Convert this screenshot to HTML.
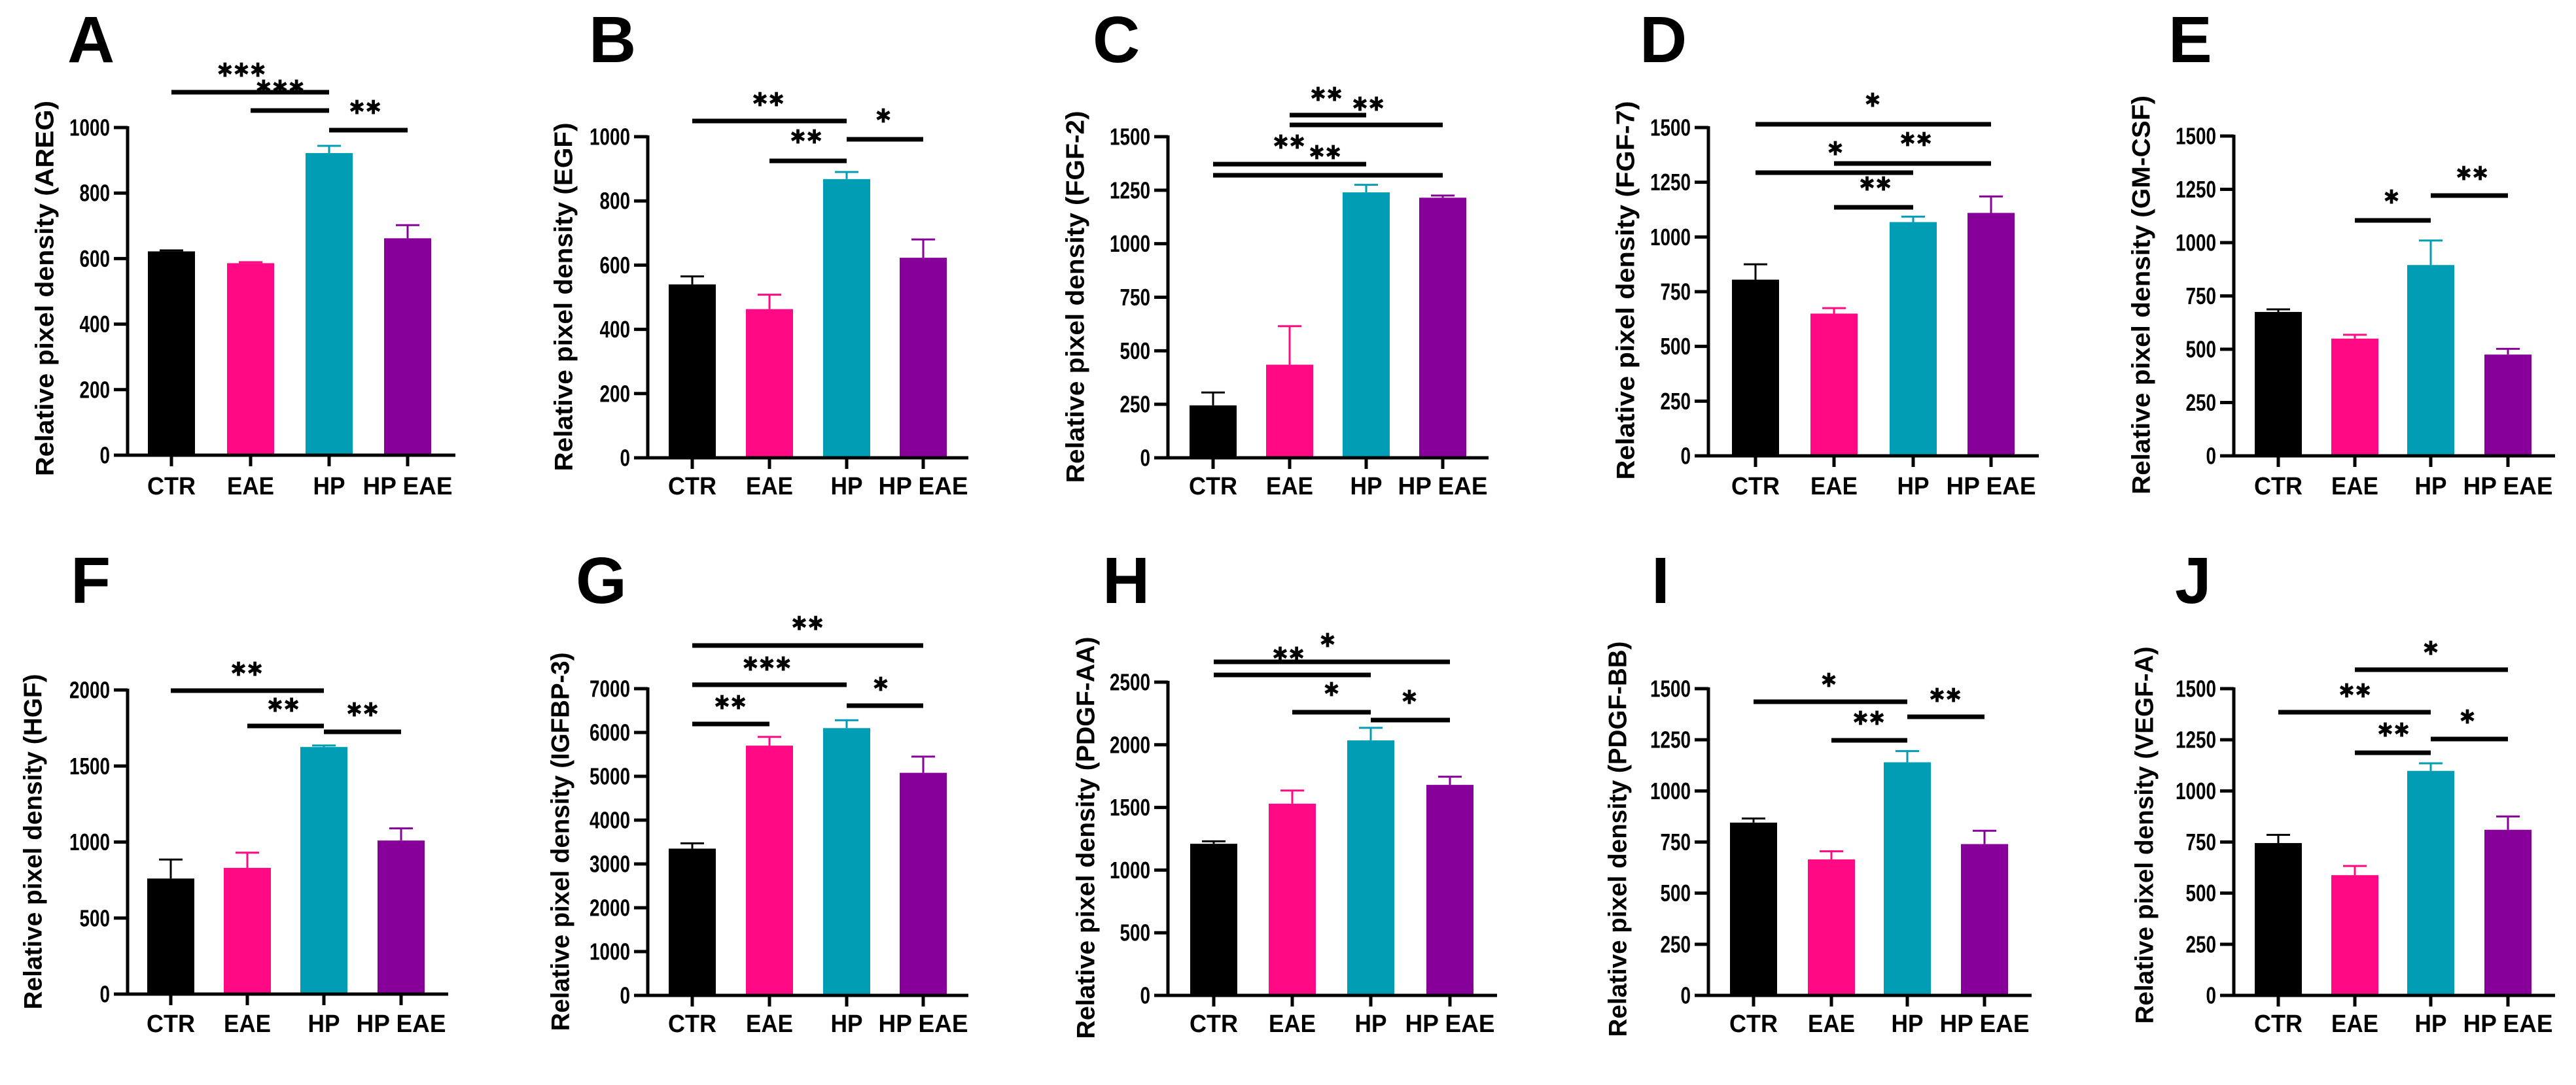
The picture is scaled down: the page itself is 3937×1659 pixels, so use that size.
<!DOCTYPE html>
<html><head><meta charset="utf-8"><style>
html,body{margin:0;padding:0;background:#fff;}
svg{display:block;font-family:"Liberation Sans",Arial,sans-serif;font-weight:bold;}
</style></head><body>
<svg id="fig" width="3937" height="1659" viewBox="0 0 3937 1659" xmlns="http://www.w3.org/2000/svg"></svg>
<script>
const categories = ["CTR","EAE","HP","HP EAE"];
const colors = ["#000000","#ff0a84","#009db5","#870099"];
const panelLetters = ["A","B","C","D","E","F","G","H","I","J"];
const analytes = ["AREG","EGF","FGF-2","FGF-7","GM-CSF","HGF","IGFBP-3","PDGF-AA","PDGF-BB","VEGF-A"];
const meansA = [622,586,922,662];   const errA = [3,3,22,40];
const meansB = [540,463,868,623];   const errB = [25,45,22,57];
const meansC = [245,435,1240,1215]; const errC = [60,180,35,10];
const meansD = [805,650,1068,1110]; const errD = [70,25,25,75];
const meansE = [675,550,895,475];   const errE = [12,18,115,27];
const meansF = [760,830,1625,1010]; const errF = [125,100,10,80];
const meansG = [3350,5700,6100,5080]; const errG = [120,200,180,370];
const meansH = [1210,1530,2035,1680]; const errH = [20,105,100,65];
const meansI = [845,665,1140,740];  const errI = [20,40,55,65];
const meansJ = [745,588,1098,810];  const errJ = [40,45,37,65];
const yMaxes = [1000,1000,1500,1500,1500,2000,7000,2500,1500,1500];
const yStepList = [200,200,250,250,250,500,1000,500,250,250];
// significance: [fromIndex, toIndex, label]
const sigA = [[0,2,"***"],[1,2,"***"],[2,3,"**"]];
const sigB = [[0,2,"**"],[1,2,"**"],[2,3,"*"]];
const sigC = [[1,2,"**"],[1,3,"**"],[0,2,"**"],[0,3,"**"]];
const sigD = [[0,3,"*"],[1,3,"**"],[0,2,"*"],[1,2,"**"]];
const sigE = [[1,2,"*"],[2,3,"**"]];
const sigF = [[0,2,"**"],[1,2,"**"],[2,3,"**"]];
const sigG = [[0,3,"**"],[0,2,"***"],[2,3,"*"],[0,1,"**"]];
const sigH = [[0,3,"*"],[0,2,"**"],[1,2,"*"],[2,3,"*"]];
const sigI = [[0,2,"*"],[1,2,"**"],[2,3,"**"]];
const sigJ = [[1,3,"*"],[0,2,"**"],[1,2,"**"],[2,3,"*"]];

const allMeans=[meansA,meansB,meansC,meansD,meansE,meansF,meansG,meansH,meansI,meansJ];
const allErr=[errA,errB,errC,errD,errE,errF,errG,errH,errI,errJ];
const allSig=[sigA,sigB,sigC,sigD,sigE,sigF,sigG,sigH,sigI,sigJ];

// layout (pixel geometry)
const layout=[
 {ax:195,top:195,zero:696,right:696,cx:[262,383,503,623],lx:69,ly:441,ll:574,Lx:103,Ly:95,xb:756,sig:[[141,369,108],[169,428,134],[199,558,165]]},
 {ax:990,top:209,zero:700,right:1480,cx:[1058,1176,1294,1411],lx:862,ly:454,ll:533,Lx:900,Ly:95,xb:756,sig:[[185,1174,153],[246,1232,210],[213,1350,178]]},
 {ax:1785,top:209,zero:700,right:2275,cx:[1854,1971,2088,2205],lx:1644,ly:454,ll:569,Lx:1670,Ly:95,xb:756,sig:[[176,2027,145],[191,2091,160],[251,1970,218],[268,2025,234]]},
 {ax:2611,top:195,zero:697,right:3116,cx:[2683,2803,2924,3043],lx:2485,ly:444,ll:579,Lx:2506,Ly:95,xb:756,sig:[[190,2862,154],[250,2928,214],[264,2805,228],[317,2866,282]]},
 {ax:3414,top:208,zero:697,right:3905,cx:[3482,3599,3715,3833],lx:3273,ly:451,ll:610,Lx:3314,Ly:95,xb:756,sig:[[337,3655,302],[299,3778,266]]},
 {ax:195,top:1055,zero:1520,right:685,cx:[261,378,495,613],lx:51,ly:1287,ll:513,Lx:108,Ly:922,xb:1578,sig:[[1056,377,1024],[1110,433,1079],[1119,554,1086]]},
 {ax:990,top:1053,zero:1522,right:1480,cx:[1058,1176,1294,1411],lx:857,ly:1287,ll:579,Lx:880,Ly:922,xb:1578,sig:[[987,1234,954],[1047,1172,1016],[1079,1346,1047],[1107,1116,1075]]},
 {ax:1785,top:1043,zero:1522,right:2288,cx:[1855,1975,2095,2216],lx:1660,ly:1281,ll:615,Lx:1685,Ly:922,xb:1578,sig:[[1012,2029,980],[1032,1969,1001],[1089,2035,1055],[1101,2154,1067]]},
 {ax:2611,top:1053,zero:1522,right:3105,cx:[2680,2799,2915,3033],lx:2473,ly:1283,ll:605,Lx:2524,Ly:922,xb:1578,sig:[[1073,2795,1041],[1132,2856,1099],[1096,2973,1064]]},
 {ax:3414,top:1053,zero:1522,right:3905,cx:[3482,3599,3715,3833],lx:3278,ly:1277,ll:577,Lx:3324,Ly:922,xb:1578,sig:[[1024,3715,992],[1089,3599,1057],[1151,3658,1117],[1130,3771,1097]]}
];
const NS="http://www.w3.org/2000/svg";
const svg=document.getElementById('fig');
function mk(tag,attrs,parent){const e=document.createElementNS(NS,tag);for(const k in attrs)e.setAttribute(k,attrs[k]);(parent||svg).appendChild(e);return e;}

for(let p=0;p<10;p++){
  const L=layout[p],means=allMeans[p],errs=allErr[p],yMax=yMaxes[p],step=yStepList[p];
  const g=mk('g',{});
  
  
  const y=v=>L.zero-(v/yMax)*(L.zero-L.top);
  // letter
  const lt=mk('text',{x:L.Lx,y:L.Ly,'font-size':100},g);lt.textContent=panelLetters[p];
  
  
  // y label
  const yl=mk('text',{x:0,y:0,'font-size':39,'text-anchor':'middle','dominant-baseline':'central',textLength:L.ll,lengthAdjust:'spacingAndGlyphs',transform:`translate(${L.lx},${L.ly}) rotate(-90)`},g);
  yl.textContent='Relative pixel density ('+analytes[p]+')';
  
  
  // bars
  for(let i=0;i<4;i++){
    const cx=L.cx[i],top=y(means[i]),et=y(means[i]+errs[i]);
    const b=mk('rect',{x:cx-36,y:top,width:72,height:L.zero-top,fill:colors[i]},g);
    
    
    const e=mk('path',{d:`M${cx} ${top}V${et}M${cx-18} ${et}H${cx+18}`,stroke:colors[i],'stroke-width':3,fill:'none'},g);
    
    
  }
  // axes
  const axis=mk('path',{d:`M${L.ax} ${L.top-2}V${L.zero}H${L.right}`,stroke:'#000','stroke-width':5,fill:'none'},g);
  
  
  for(let v=0;v<=yMax;v+=step){
    const yy=y(v);
    mk('line',{x1:L.ax-21,x2:L.ax,y1:yy,y2:yy,stroke:'#000','stroke-width':5},g);
    const s=String(v);
    const t=mk('text',{x:L.ax-27,y:yy,'font-size':36,'text-anchor':'end','dominant-baseline':'central',textLength:s.length*15.5,lengthAdjust:'spacingAndGlyphs'},g);
    t.textContent=s;
    
    
  }
  const xw=[74,72,49,137];
  for(let i=0;i<4;i++){
    mk('line',{x1:L.cx[i],x2:L.cx[i],y1:L.zero,y2:L.zero+17,stroke:'#000','stroke-width':5},g);
    const t=mk('text',{x:L.cx[i],y:L.xb,'font-size':38,'text-anchor':'middle',textLength:xw[i],lengthAdjust:'spacingAndGlyphs'},g);
    t.textContent=categories[i];
    
    
  }
  // significance
  allSig[p].forEach((s,k)=>{
    const pos=L.sig[k];
    const ln=mk('line',{x1:L.cx[s[0]],x2:L.cx[s[1]],y1:pos[0],y2:pos[0],stroke:'#000','stroke-width':7},g);
    
    
    const t=mk('text',{x:pos[1],y:pos[2],'font-size':30,'text-anchor':'middle','dominant-baseline':'central','font-family':'DejaVu Sans, sans-serif'},g);
    t.textContent=s[2].replace(/\*/g,'✱');
    
    
  });
}
</script>
</body></html>
